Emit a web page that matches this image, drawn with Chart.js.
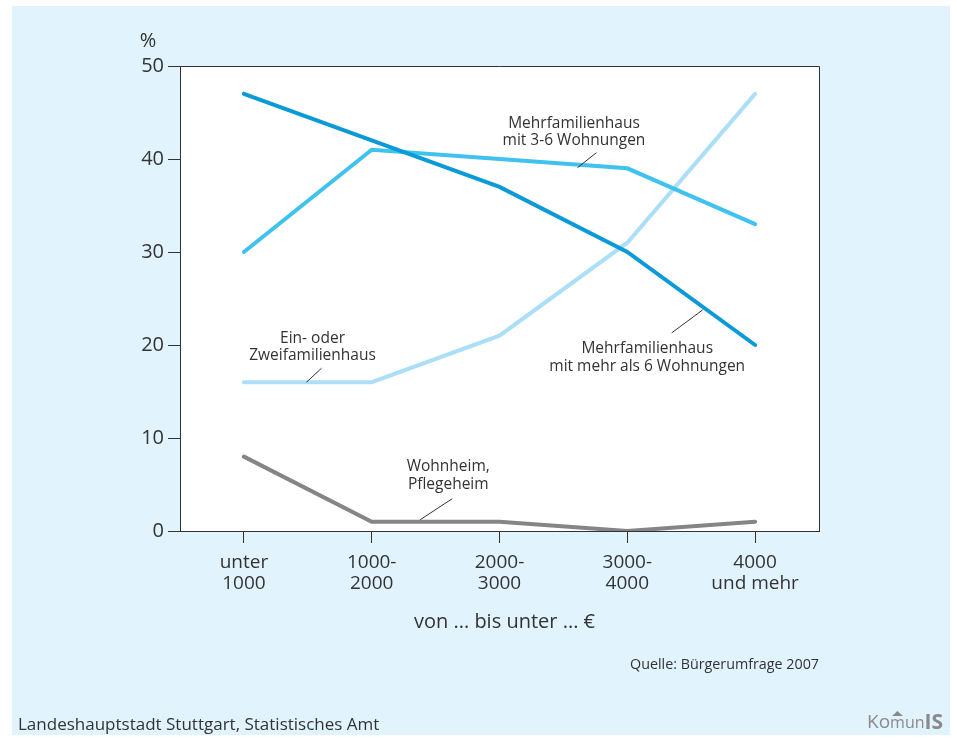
<!DOCTYPE html>
<html lang="de">
<head>
<meta charset="utf-8">
<title>Wohnform nach Haushaltsnettoeinkommen</title>
<script src="https://cdn.jsdelivr.net/npm/chart.js@4.4.1/dist/chart.umd.min.js"></script>
<style>
  html, body { margin: 0; padding: 0; background: #ffffff; }
  #wrap { width: 957px; height: 738px; position: relative; }
  canvas { display: block; }
</style>
</head>
<body>
<div id="wrap"><canvas id="chart" width="957" height="738"></canvas></div>
<script>
// Einkommensklassen (Haushaltsnettoeinkommen)
const categories = [
  ['unter', '1000'],
  ['1000-', '2000'],
  ['2000-', '3000'],
  ['3000-', '4000'],
  ['4000', 'und mehr']
];

// Anteile in %
const mehrAls6 = [47, 42, 37, 30, 20];
const dreiBisSechs = [30, 41, 40, 39, 33];
const einZweifamilien = [16, 16, 21, 31, 47];
const wohnheim = [8, 1, 1, 0, 1];

const yTicks = [0, 10, 20, 30, 40, 50];

const seriesNames = {
  mehrAls6: ['Mehrfamilienhaus', 'mit mehr als 6 Wohnungen'],
  dreiBisSechs: ['Mehrfamilienhaus', 'mit 3-6 Wohnungen'],
  einZweifamilien: ['Ein- oder', 'Zweifamilienhaus'],
  wohnheim: ['Wohnheim,', 'Pflegeheim']
};

const FONT = '"Open Sans", "Noto Sans", sans-serif';
const TEXT = '#333333';

// Beschriftungen an den Linien mit Hinweisstrich
const callouts = [
  { ds: 1, at: 2.61, lines: seriesNames.dreiBisSechs, tx: -3.5, ty: [-41.5, -24.5], lead: [0, 3, 19, -12] },
  { ds: 0, at: 3.59, lines: seriesNames.mehrAls6, tx: -55.5, ty: [42, 59.5], lead: [0, 3, -31, 26] },
  { ds: 2, at: 0.49, lines: seriesNames.einZweifamilien, tx: 6, ty: [-43.5, -27], lead: [0, 0, 15, -14] },
  { ds: 3, at: 1.38, lines: seriesNames.wohnheim, tx: 28, ty: [-55, -37.5], lead: [0, -2, 32, -23] }
];

const decoration = {
  id: 'decoration',
  beforeDraw(chart) {
    const ctx = chart.ctx;
    const a = chart.chartArea;
    ctx.save();
    ctx.fillStyle = '#ffffff';
    ctx.fillRect(0, 0, chart.width, chart.height);
    ctx.fillStyle = '#e1f3fd';
    ctx.fillRect(12, 6, 938, 729);
    ctx.fillStyle = '#ffffff';
    ctx.fillRect(a.left, a.top, a.right - a.left, a.bottom - a.top);
    ctx.restore();
  },
  afterDraw(chart) {
    const ctx = chart.ctx;
    const a = chart.chartArea;
    const xs = chart.scales.x;
    const ys = chart.scales.y;
    ctx.save();
    // Rahmen oben und rechts
    ctx.strokeStyle = '#333333';
    ctx.lineWidth = 1;
    ctx.beginPath();
    ctx.moveTo(a.left, a.top + 0.5);
    ctx.lineTo(a.right + 0.5, a.top + 0.5);
    ctx.lineTo(a.right + 0.5, a.bottom);
    ctx.stroke();

    // Linienbeschriftungen
    ctx.font = '15.5px ' + FONT;
    ctx.fillStyle = TEXT;
    ctx.textAlign = 'center';
    ctx.textBaseline = 'middle';
    callouts.forEach(c => {
      const data = chart.data.datasets[c.ds].data;
      const i0 = Math.floor(c.at), f = c.at - i0;
      const v = data[i0] + (data[Math.min(i0 + 1, data.length - 1)] - data[i0]) * f;
      const px = xs.getPixelForValue(c.at);
      const py = ys.getPixelForValue(v);
      ctx.beginPath();
      ctx.strokeStyle = '#333333';
      ctx.lineWidth = 1;
      ctx.moveTo(px + c.lead[0], py + c.lead[1]);
      ctx.lineTo(px + c.lead[2], py + c.lead[3]);
      ctx.stroke();
      c.lines.forEach((t, k) => ctx.fillText(t, px + c.tx, py + c.ty[k]));
    });

    // Einheit
    ctx.font = '20px ' + FONT;
    ctx.textAlign = 'center';
    ctx.fillText('%', 148, 41);

    // Achsentitel
    ctx.font = '20px ' + FONT;
    ctx.fillText('von ... bis unter ... €', (a.left + a.right) / 2 + 5, 622);

    // Quelle
    ctx.font = '14.3px ' + FONT;
    ctx.textAlign = 'right';
    ctx.fillText('Quelle: Bürgerumfrage 2007', a.right, 665);

    // Fußzeile
    ctx.font = '17px ' + FONT;
    ctx.textAlign = 'left';
    ctx.fillText('Landeshauptstadt Stuttgart, Statistisches Amt', 18, 725);

    // Logo
    ctx.fillStyle = '#8a8a8a';
    let x = 867;
    const parts = [['Ko', '19px '], ['m', '16px '], ['un', '16px '], ['IS', 'bold 21px ']];
    parts.forEach(p => {
      ctx.font = p[1] + FONT;
      ctx.fillText(p[0], x, 723);
      if (p[0] === 'm') {
        const w = ctx.measureText('m').width;
        ctx.beginPath();
        ctx.moveTo(x + 2, 716);
        ctx.lineTo(x + w / 2, 711);
        ctx.lineTo(x + w - 2, 716);
        ctx.closePath();
        ctx.fill();
      }
      x += ctx.measureText(p[0]).width;
    });
    ctx.restore();
  }
};

const lineStyle = {
  borderWidth: 4,
  pointRadius: 0,
  pointHoverRadius: 0,
  tension: 0,
  fill: false,
  borderCapStyle: 'round',
  borderJoinStyle: 'miter'
};

new Chart(document.getElementById('chart'), {
  type: 'line',
  data: {
    labels: categories,
    datasets: [
      Object.assign({ label: seriesNames.mehrAls6.join(' '), data: mehrAls6, borderColor: '#0a9ad8', order: 1 }, lineStyle),
      Object.assign({ label: seriesNames.dreiBisSechs.join(' '), data: dreiBisSechs, borderColor: '#40c2ef', order: 2 }, lineStyle),
      Object.assign({ label: seriesNames.einZweifamilien.join(' '), data: einZweifamilien, borderColor: '#aadff7', order: 3 }, lineStyle),
      Object.assign({ label: seriesNames.wohnheim.join(' '), data: wohnheim, borderColor: '#858585', order: 0 }, lineStyle)
    ]
  },
  options: {
    responsive: false,
    animation: false,
    devicePixelRatio: 1,
    layout: { padding: { left: 0, top: 66, right: 138, bottom: 107 } },
    plugins: { legend: { display: false }, tooltip: { enabled: false } },
    scales: {
      x: {
        type: 'category',
        offset: true,
        afterFit(scale) { scale.height = 100; },
        grid: { display: true, drawOnChartArea: false, drawTicks: true, tickLength: 12, color: '#333333', offset: false },
        border: { display: true, color: '#333333', width: 1 },
        ticks: { color: TEXT, font: { family: FONT, size: 19, lineHeight: 1.1 }, padding: 9, maxRotation: 0, autoSkip: false }
      },
      y: {
        min: 0,
        max: 50,
        afterFit(scale) { scale.width = 180; },
        afterBuildTicks(scale) { scale.ticks = yTicks.map(v => ({ value: v })); },
        grid: { display: true, drawOnChartArea: false, drawTicks: true, tickLength: 12, color: '#333333' },
        border: { display: true, color: '#333333', width: 1 },
        ticks: { color: TEXT, font: { family: FONT, size: 20 }, padding: 4 }
      }
    }
  },
  plugins: [decoration]
});
</script>
</body>
</html>
